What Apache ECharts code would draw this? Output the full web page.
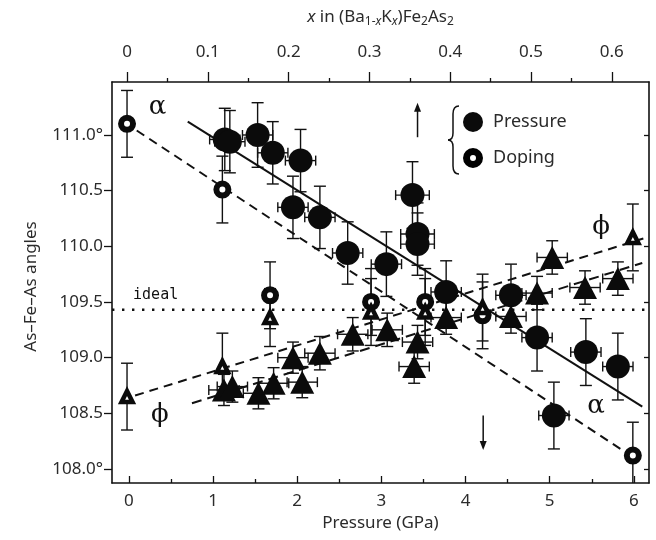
<!DOCTYPE html>
<html><head><meta charset="utf-8">
<script src="https://cdn.jsdelivr.net/npm/echarts@6/dist/echarts.min.js"></script>
<style>html,body{margin:0;padding:0;background:#fff}#c{width:656px;height:540px}</style>
</head><body><div id="c"></div>
<script>
// ---------- data ----------
// Pressure (filled circles = alpha angle)
const pressAlphaP  = [1.14, 1.20, 1.53, 1.71, 2.04, 1.95, 2.27, 2.60, 3.06, 3.37, 3.43, 3.43, 3.77, 4.54, 4.85, 5.43, 5.81, 5.05];
const pressAlphaV  = [110.96, 110.94, 111.00, 110.84, 110.77, 110.35, 110.26, 109.94, 109.84, 110.46, 110.11, 110.02, 109.59, 109.56, 109.18, 109.05, 108.92, 108.48];
const pressAlphaEP = [0.18, 0.18, 0.18, 0.18, 0.18, 0.18, 0.18, 0.18, 0.18, 0.20, 0.20, 0.20, 0.18, 0.18, 0.18, 0.18, 0.18, 0.18];
const pressAlphaEV = [0.28, 0.28, 0.29, 0.28, 0.28, 0.28, 0.28, 0.28, 0.29, 0.30, 0.28, 0.28, 0.28, 0.28, 0.30, 0.30, 0.30, 0.30];
// Pressure (filled triangles = phi angle)
const pressPhiP  = [1.13, 1.23, 1.54, 1.72, 1.95, 2.06, 2.27, 2.66, 3.07, 3.43, 3.39, 3.77, 4.54, 4.85, 5.03, 5.42, 5.81];
const pressPhiV  = [108.71, 108.74, 108.68, 108.77, 109.00, 108.78, 109.04, 109.21, 109.25, 109.14, 108.92, 109.36, 109.37, 109.58, 109.90, 109.63, 109.71];
const pressPhiEP = [0.18, 0.18, 0.18, 0.18, 0.18, 0.18, 0.18, 0.18, 0.18, 0.18, 0.18, 0.18, 0.18, 0.18, 0.18, 0.18, 0.18];
const pressPhiEV = [0.14, 0.14, 0.14, 0.14, 0.14, 0.14, 0.15, 0.15, 0.15, 0.15, 0.15, 0.15, 0.15, 0.15, 0.15, 0.15, 0.15];
// Doping (open circles = alpha, open triangles = phi), x in (Ba1-xKx)Fe2As2
const dopX      = [0, 0.118, 0.177, 0.302, 0.369, 0.44, 0.626];
const dopAlphaV = [111.10, 110.51, 109.56, 109.50, 109.50, 109.38, 108.12];
const dopAlphaE = [0.30, 0.30, 0.30, 0.30, 0.30, 0.30, 0.30];
const dopPhiV   = [108.65, 108.92, 109.36, 109.41, 109.41, 109.45, 110.08];
const dopPhiE   = [0.30, 0.30, 0.26, 0.30, 0.30, 0.30, 0.30];
// fitted lines (end points)
const fitAlphaPressP = [0.70, 6.10], fitAlphaPressV = [111.12, 108.56];
const fitPhiPressP   = [0.75, 6.10], fitPhiPressV   = [108.59, 109.85];
const fitAlphaDopX   = [0.012, 0.619], fitAlphaDopV = [111.04, 108.14];
const fitPhiDopX     = [0.010, 0.639], fitPhiDopV   = [108.66, 110.07];
const idealAngle = 109.43;
// axes
const pressureTicks = [0, 1, 2, 3, 4, 5, 6];
const pressureMinor = [0.5, 1.5, 2.5, 3.5, 4.5, 5.5];
const dopingTicks = [0, 0.1, 0.2, 0.3, 0.4, 0.5, 0.6];
const dopingMinor = [0.05, 0.15, 0.25, 0.35, 0.45, 0.55];
const angleTicks = [108.0, 108.5, 109.0, 109.5, 110.0, 110.5, 111.0];
const angleTickLabels = ['108.0°', '108.5', '109.0', '109.5', '110.0', '110.5', '111.0°'];
// annotations (pressure, angle, text)
const annoP = [0.34, 5.55, 0.37, 5.61];
const annoV = [111.25, 108.56, 108.48, 110.17];
const annoText = ['α', 'α', 'ϕ', 'ϕ'];
// arrows (pressure, from angle, to angle)
const arrowP = [3.43, 4.21];
const arrowFrom = [110.98, 108.48];
const arrowTo = [111.29, 108.17];

// ---------- chart ----------
const FONT = "'Noto Sans', 'Open Sans', sans-serif";
const TXT = '#2b2b2b';
const chart = echarts.init(document.getElementById('c'), null, {renderer: 'canvas'});

function zip4(a, b, c, d) { return a.map((v, i) => [v, b[i], c[i], d[i]]); }
function pts(a, b) { return a.map((v, i) => [v, b[i]]); }

function errRender(params, api) {
  const x = api.value(0), y = api.value(1), ex = api.value(2), ey = api.value(3);
  const st = {stroke: '#111', lineWidth: 1.4, fill: null};
  const t = api.coord([x, y + ey]), b = api.coord([x, y - ey]);
  const ch = [
    {type: 'line', shape: {x1: t[0], y1: t[1], x2: b[0], y2: b[1]}, style: st},
    {type: 'line', shape: {x1: t[0] - 6, y1: t[1], x2: t[0] + 6, y2: t[1]}, style: st},
    {type: 'line', shape: {x1: b[0] - 6, y1: b[1], x2: b[0] + 6, y2: b[1]}, style: st}
  ];
  if (ex > 0) {
    const l = api.coord([x - ex, y]), r = api.coord([x + ex, y]);
    ch.push({type: 'line', shape: {x1: l[0], y1: l[1], x2: r[0], y2: r[1]}, style: st});
    ch.push({type: 'line', shape: {x1: l[0], y1: l[1] - 5, x2: l[0], y2: l[1] + 5}, style: st});
    ch.push({type: 'line', shape: {x1: r[0], y1: r[1] - 5, x2: r[0], y2: r[1] + 5}, style: st});
  }
  return {type: 'group', children: ch};
}

const ringIcon = 'path://M10,0A10,10 0 1,1 10,20A10,10 0 1,1 10,0ZM10,7A3,3 0 1,0 10,13A3,3 0 1,0 10,7Z';
const braceStyle = {stroke: '#111', fill: null, lineWidth: 1.5};
const axisLineStyle = {show: true, onZero: false, lineStyle: {color: '#111', width: 1.6}};

const option = {
  animation: false,
  backgroundColor: '#fff',
  grid: {left: 112, right: 7, top: 82, bottom: 57},
  legend: {
    data: [
      {name: 'Pressure', icon: 'circle'},
      {name: 'Doping', icon: ringIcon, itemStyle: {color: '#000', borderWidth: 0}}
    ],
    orient: 'vertical', left: 463, top: 112, itemWidth: 20, itemHeight: 20, itemGap: 16,
    padding: 0, selectedMode: false,
    textStyle: {fontFamily: FONT, fontSize: 18, color: TXT, padding: [0, 0, 0, 5]}
  },
  xAxis: [
    { // pressure
      type: 'value', position: 'bottom', min: -0.2, max: 6.18,
      name: 'Pressure (GPa)', nameLocation: 'middle', nameGap: 32,
      nameTextStyle: {fontFamily: FONT, fontSize: 17, color: TXT},
      axisLine: axisLineStyle,
      axisTick: {show: true, inside: true, length: 7, customValues: pressureTicks, lineStyle: {color: '#111', width: 1.3}},
      axisLabel: {show: true, customValues: pressureTicks, margin: 10, fontFamily: FONT, fontSize: 17, color: TXT},
      splitLine: {show: false}
    },
    { // doping
      type: 'value', position: 'top', min: -0.0186, max: 0.6460,
      name: '{i|x} in (Ba{s|1-}{si|x}K{si|x})Fe{s|2}As{s|2}', nameLocation: 'middle', nameGap: 54,
      nameTextStyle: {fontFamily: FONT, fontSize: 17, color: TXT,
        rich: {
          i: {fontFamily: FONT, fontSize: 17, fontStyle: 'italic', color: TXT},
          s: {fontFamily: FONT, fontSize: 12, color: TXT, padding: [9, 0, 0, 0]},
          si: {fontFamily: FONT, fontSize: 12, fontStyle: 'italic', color: TXT, padding: [9, 0, 0, 0]}
        }},
      axisLine: axisLineStyle,
      axisTick: {show: true, inside: false, length: 10, customValues: dopingTicks, lineStyle: {color: '#111', width: 1.3}},
      axisLabel: {show: true, customValues: dopingTicks, margin: 21, fontFamily: FONT, fontSize: 17, color: TXT},
      splitLine: {show: false}
    },
    { // pressure minor ticks
      type: 'value', position: 'bottom', min: -0.2, max: 6.18,
      axisLine: {show: false, onZero: false},
      axisTick: {show: true, inside: true, length: 4, customValues: pressureMinor, lineStyle: {color: '#111', width: 1.3}},
      axisLabel: {show: false}, splitLine: {show: false}
    },
    { // doping minor ticks
      type: 'value', position: 'top', min: -0.0186, max: 0.6460,
      axisLine: {show: false, onZero: false},
      axisTick: {show: true, inside: false, length: 4, customValues: dopingMinor, lineStyle: {color: '#111', width: 1.3}},
      axisLabel: {show: false}, splitLine: {show: false}
    }
  ],
  yAxis: [
    {
      type: 'value', position: 'left', min: 107.874, max: 111.476,
      name: 'As–Fe–As angles', nameLocation: 'middle', nameGap: 72,
      nameTextStyle: {fontFamily: FONT, fontSize: 17, color: TXT, padding: [0, 8, 0, 0]},
      axisLine: axisLineStyle,
      axisTick: {show: true, inside: false, length: 8, customValues: angleTicks, lineStyle: {color: '#111', width: 1.3}},
      axisLabel: {show: true, customValues: angleTicks, margin: 9, fontFamily: FONT, fontSize: 17, color: TXT,
        formatter: v => { const i = angleTicks.findIndex(t => Math.abs(t - v) < 1e-6); return i >= 0 ? angleTickLabels[i] : ''; }},
      splitLine: {show: false}
    },
    {
      type: 'value', position: 'right', min: 107.874, max: 111.476,
      axisLine: axisLineStyle,
      axisTick: {show: true, inside: true, length: 5, customValues: angleTicks, lineStyle: {color: '#111', width: 1.3}},
      axisLabel: {show: false}, splitLine: {show: false}
    }
  ],
  series: [
    // fitted lines
    {type: 'line', name: 'fitAlphaPress', xAxisIndex: 0, yAxisIndex: 0, data: pts(fitAlphaPressP, fitAlphaPressV), symbol: 'none', z: 1,
     lineStyle: {color: '#111', width: 2}},
    {type: 'line', name: 'fitPhiPress', xAxisIndex: 0, yAxisIndex: 0, data: pts(fitPhiPressP, fitPhiPressV), symbol: 'none', z: 1,
     lineStyle: {color: '#111', width: 2, type: [10, 6]}},
    {type: 'line', name: 'fitAlphaDop', xAxisIndex: 1, yAxisIndex: 0, data: pts(fitAlphaDopX, fitAlphaDopV), symbol: 'none', z: 1,
     lineStyle: {color: '#111', width: 2, type: [9, 6]}},
    {type: 'line', name: 'fitPhiDop', xAxisIndex: 1, yAxisIndex: 0, data: pts(fitPhiDopX, fitPhiDopV), symbol: 'none', z: 1,
     lineStyle: {color: '#111', width: 2, type: [9, 6]}},
    {type: 'line', name: 'ideal', xAxisIndex: 0, yAxisIndex: 0, data: [[-0.2, idealAngle], [6.18, idealAngle]], symbol: 'none', z: 1,
     lineStyle: {color: '#111', width: 2.4, type: [2.4, 7.6]}},
    // error bars
    {type: 'custom', name: 'errPA', xAxisIndex: 0, yAxisIndex: 0, z: 3, clip: true, renderItem: errRender,
     data: zip4(pressAlphaP, pressAlphaV, pressAlphaEP, pressAlphaEV)},
    {type: 'custom', name: 'errPP', xAxisIndex: 0, yAxisIndex: 0, z: 3, clip: true, renderItem: errRender,
     data: zip4(pressPhiP, pressPhiV, pressPhiEP, pressPhiEV)},
    {type: 'custom', name: 'errDA', xAxisIndex: 1, yAxisIndex: 0, z: 3, clip: true, renderItem: errRender,
     data: zip4(dopX, dopAlphaV, dopX.map(() => 0), dopAlphaE)},
    {type: 'custom', name: 'errDP', xAxisIndex: 1, yAxisIndex: 0, z: 3, clip: true, renderItem: errRender,
     data: zip4(dopX, dopPhiV, dopX.map(() => 0), dopPhiE)},
    // markers
    {type: 'scatter', name: 'Pressure', xAxisIndex: 0, yAxisIndex: 0, z: 4, symbol: 'circle', symbolSize: 24,
     itemStyle: {color: '#0b0b0b', opacity: 1}, data: pts(pressAlphaP, pressAlphaV)},
    {type: 'scatter', name: 'Pressure φ', xAxisIndex: 0, yAxisIndex: 0, z: 4, symbol: 'triangle', symbolSize: [24, 23],
     itemStyle: {color: '#0b0b0b', opacity: 1}, data: pts(pressPhiP, pressPhiV)},
    {type: 'scatter', name: 'Doping', xAxisIndex: 1, yAxisIndex: 0, z: 4, symbol: 'circle', symbolSize: 12,
     itemStyle: {color: '#fff', borderColor: '#0b0b0b', borderWidth: 6, opacity: 1}, data: pts(dopX, dopAlphaV)},
    {type: 'scatter', name: 'Doping φ', xAxisIndex: 1, yAxisIndex: 0, z: 4, symbol: 'triangle', symbolSize: 11,
     itemStyle: {color: '#fff', borderColor: '#0b0b0b', borderWidth: 4.5, opacity: 1}, data: pts(dopX, dopPhiV)},
    // annotations
    {type: 'custom', name: 'annotations', xAxisIndex: 0, yAxisIndex: 0, z: 5, silent: true,
     data: pts(annoP, annoV),
     renderItem: (params, api) => {
       const p = api.coord([api.value(0), api.value(1)]);
       return {type: 'text', x: p[0], y: p[1],
         style: {text: annoText[params.dataIndex], font: "26px 'DejaVu Serif', serif", fill: '#111', align: 'center', verticalAlign: 'middle'}};
     }},
    // ideal label
    {type: 'custom', name: 'idealLabel', xAxisIndex: 0, yAxisIndex: 0, z: 5, silent: true,
     data: [[0.05, idealAngle]],
     renderItem: (params, api) => {
       const p = api.coord([api.value(0), api.value(1)]);
       return {type: 'text', x: p[0], y: p[1] - 15,
         style: {text: 'ideal', font: "15px 'DejaVu Sans Mono', monospace", fill: '#111', align: 'left', verticalAlign: 'middle'}};
     }},
    // arrows
    {type: 'custom', name: 'arrows', xAxisIndex: 0, yAxisIndex: 0, z: 5, silent: true,
     data: arrowP.map((p, i) => [p, arrowFrom[i], arrowTo[i]]),
     renderItem: (params, api) => {
       const a = api.coord([api.value(0), api.value(1)]);
       const b = api.coord([api.value(0), api.value(2)]);
       const dir = b[1] < a[1] ? -1 : 1;
       return {type: 'group', children: [
         {type: 'line', shape: {x1: a[0], y1: a[1], x2: b[0], y2: b[1] - dir * 6}, style: {stroke: '#111', lineWidth: 1.5}},
         {type: 'polygon', shape: {points: [[b[0], b[1]], [b[0] - 3.5, b[1] - dir * 9], [b[0] + 3.5, b[1] - dir * 9]]}, style: {fill: '#111'}}
       ]};
     }}
  ],
  graphic: [
    {type: 'group', silent: true, z: 10, children: [
      {type: 'bezierCurve', shape: {x1: 459, y1: 106, cpx1: 453, cpy1: 106, x2: 453, y2: 114}, style: braceStyle},
      {type: 'line', shape: {x1: 453, y1: 114, x2: 453, y2: 133}, style: braceStyle},
      {type: 'bezierCurve', shape: {x1: 453, y1: 133, cpx1: 453, cpy1: 140, x2: 448, y2: 140}, style: braceStyle},
      {type: 'bezierCurve', shape: {x1: 448, y1: 140, cpx1: 453, cpy1: 140, x2: 453, y2: 147}, style: braceStyle},
      {type: 'line', shape: {x1: 453, y1: 147, x2: 453, y2: 166}, style: braceStyle},
      {type: 'bezierCurve', shape: {x1: 453, y1: 166, cpx1: 453, cpy1: 174, x2: 459, y2: 174}, style: braceStyle}
    ]}
  ]
};
chart.setOption(option);
</script>
</body></html>
